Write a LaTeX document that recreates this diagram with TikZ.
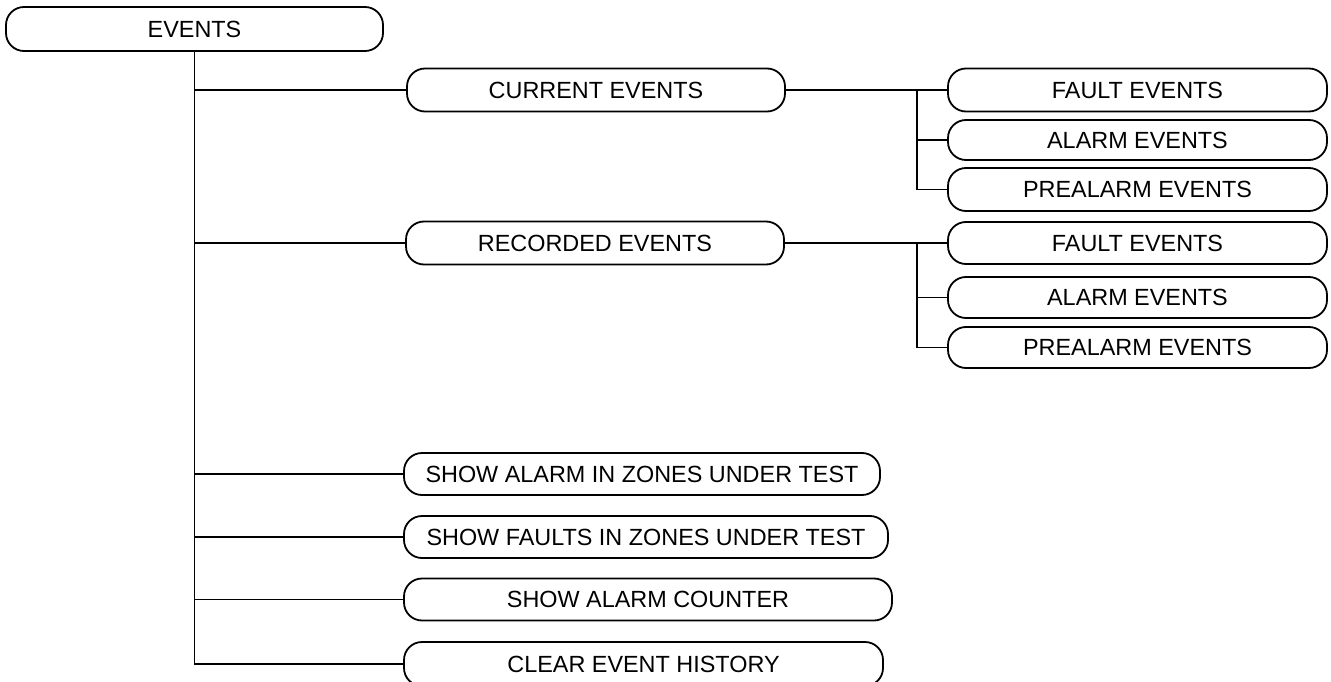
\documentclass[tikz,border=0pt]{standalone}
\usepackage{fontspec}
\setmainfont{Liberation Sans}
\begin{document}
\begin{tikzpicture}[x=1pt,y=-1pt,
  menubox/.style={draw, line width=1.8pt, rounded corners=18pt, minimum height=42pt,
    inner sep=0pt, font=\fontsize{23.4}{23.4}\selectfont, anchor=center},
  link/.style={line width=1.8pt}]
\useasboundingbox (0,0) rectangle (1331,682);
\fill[white] (0,0) rectangle (1331,682);
\node[menubox, minimum width=377pt, minimum height=44pt] (ev) at (194.5,29) {EVENTS};
\node[menubox, minimum width=378pt, minimum height=43pt] (cur) at (596,90) {CURRENT EVENTS};
\node[menubox, minimum width=378pt, minimum height=43pt] (rec) at (595,243) {RECORDED EVENTS};
\node[menubox, minimum width=379pt, minimum height=43pt] (f1) at (1137.5,90) {FAULT EVENTS};
\node[menubox, minimum width=379pt, minimum height=40pt] (a1) at (1137.5,140) {ALARM EVENTS};
\node[menubox, minimum width=379pt, minimum height=43pt] (p1) at (1137.5,189.5) {PREALARM EVENTS};
\node[menubox, minimum width=379pt, minimum height=42pt] (f2) at (1137.5,243) {FAULT EVENTS};
\node[menubox, minimum width=379pt, minimum height=41pt] (a2) at (1137.5,297.5) {ALARM EVENTS};
\node[menubox, minimum width=379pt, minimum height=41pt] (p2) at (1137.5,347.5) {PREALARM EVENTS};
\node[menubox, minimum width=476pt] (s1) at (642,474) {SHOW ALARM IN ZONES UNDER TEST};
\node[menubox, minimum width=484pt] (s2) at (646,537) {SHOW FAULTS IN ZONES UNDER TEST};
\node[menubox, minimum width=488pt] (s3) at (648,599.5) {SHOW ALARM COUNTER};
\node[menubox, minimum width=479pt, minimum height=44pt] (s4) at (643.5,664) {CLEAR EVENT HISTORY};
% main trunk
\draw[link] (ev.south) |- (s4.west);
\foreach \n in {cur,rec,s1,s2,s3}{
  \draw[link] (ev.south |- \n.west) -- (\n.west);
}
% current events subtree
\coordinate (j1) at (917,90);
\draw[link] (cur.east) -- (f1.west);
\draw[link] (j1) |- (a1.west);
\draw[link] (j1) |- (p1.west);
% recorded events subtree
\coordinate (j2) at (917,243);
\draw[link] (rec.east) -- (f2.west);
\draw[link] (j2) |- (a2.west);
\draw[link] (j2) |- (p2.west);
\end{tikzpicture}
\end{document}
